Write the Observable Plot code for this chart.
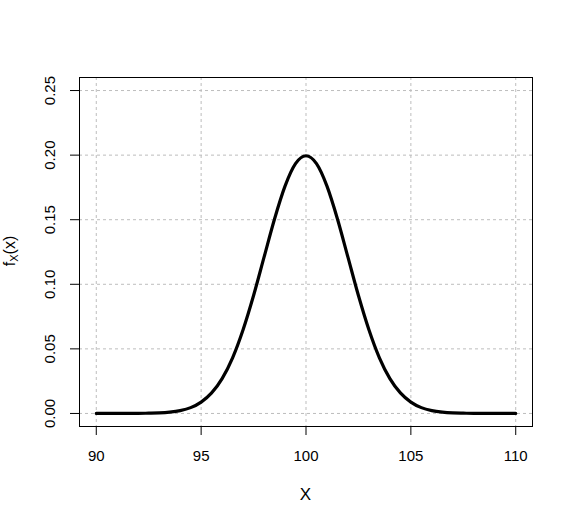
<!DOCTYPE html>
<html>
<head>
<meta charset="utf-8">
<script src="https://cdn.jsdelivr.net/npm/d3@7"></script>
<script src="https://cdn.jsdelivr.net/npm/@observablehq/plot@0.6"></script>
<style>
  html, body { margin: 0; padding: 0; background: #fff; }
  svg { font-family: "Liberation Sans", Arial, sans-serif; }
</style>
</head>
<body>
<div id="chart"></div>
<script>
// Values
const xValues = [90, 90.5, 91, 91.5, 92, 92.5, 93, 93.5, 94, 94.5, 95, 95.5, 96, 96.5, 97, 97.5, 98, 98.5, 99, 99.5,
  100, 100.5, 101, 101.5, 102, 102.5, 103, 103.5, 104, 104.5, 105, 105.5, 106, 106.5, 107, 107.5, 108, 108.5, 109, 109.5, 110];
const densityValues = [0.0000, 0.0000, 0.0000, 0.0000, 0.0001, 0.0002, 0.0004, 0.0010, 0.0022, 0.0045, 0.0088, 0.0159, 0.0270, 0.0431, 0.0648, 0.0913, 0.1210, 0.1506, 0.1760, 0.1934,
  0.1995, 0.1934, 0.1760, 0.1506, 0.1210, 0.0913, 0.0648, 0.0431, 0.0270, 0.0159, 0.0088, 0.0045, 0.0022, 0.0010, 0.0004, 0.0002, 0.0001, 0.0000, 0.0000, 0.0000, 0.0000];
const xTicks = [90, 95, 100, 105, 110];
const xTickLabels = ["90", "95", "100", "105", "110"];
const yTicks = [0, 0.05, 0.10, 0.15, 0.20, 0.25];
const yTickLabels = ["0.00", "0.05", "0.10", "0.15", "0.20", "0.25"];
const xLabel = "X";

const points = xValues.map((x, i) => ({x, y: densityValues[i]}));
const xTickData = xTicks.map((v, i) => ({v, label: xTickLabels[i]}));
const yTickData = yTicks.map((v, i) => ({v, label: yTickLabels[i]}));

const grid = {stroke: "#bdbdbd", strokeOpacity: 1, strokeWidth: 1, strokeDasharray: "3,3"};

const chart = Plot.plot({
  width: 573,
  height: 524,
  marginLeft: 79,
  marginRight: 41,
  marginTop: 77,
  marginBottom: 98,
  style: {fontFamily: "'Liberation Sans', Arial, sans-serif", fontSize: "15px", color: "#000", background: "#fff"},
  x: {domain: [89.2, 110.8]},
  y: {domain: [-0.0101, 0.2601]},
  marks: [
    Plot.gridX(xTicks, grid),
    Plot.gridY(yTicks, grid),
    Plot.axisX(xTicks, {tickSize: 9, text: null, label: null, stroke: "#000"}),
    Plot.axisY(yTicks, {tickSize: 9, text: null, label: null, stroke: "#000"}),
    Plot.text(xTickData, {x: "v", text: "label", frameAnchor: "bottom", dy: 30, fontSize: 15, fill: "#000", lineAnchor: "middle", textAnchor: "middle"}),
    Plot.text(yTickData, {y: "v", text: "label", frameAnchor: "left", dx: -29, rotate: -90, fontSize: 15, fill: "#000", lineAnchor: "middle", textAnchor: "middle"}),
    Plot.line(points, {x: "x", y: "y", stroke: "#000", strokeWidth: 3.2, curve: "monotone-x"}),
    Plot.frame({stroke: "#000", strokeWidth: 1})
  ]
});

const svg = d3.select(chart);
svg.append("text")
  .attr("x", 305.5).attr("y", 495.5)
  .attr("text-anchor", "middle").attr("dominant-baseline", "middle")
  .attr("font-size", 17).attr("fill", "#000")
  .text(xLabel);

const yl = svg.append("text")
  .attr("transform", "translate(11,251) rotate(-90)")
  .attr("text-anchor", "middle").attr("dominant-baseline", "middle")
  .attr("font-size", 16).attr("fill", "#000");
yl.append("tspan").text("f");
yl.append("tspan").attr("font-size", 11).attr("dy", 4).text("X");
yl.append("tspan").attr("dy", -4).text("(x)");

document.getElementById("chart").appendChild(chart);
</script>
</body>
</html>
